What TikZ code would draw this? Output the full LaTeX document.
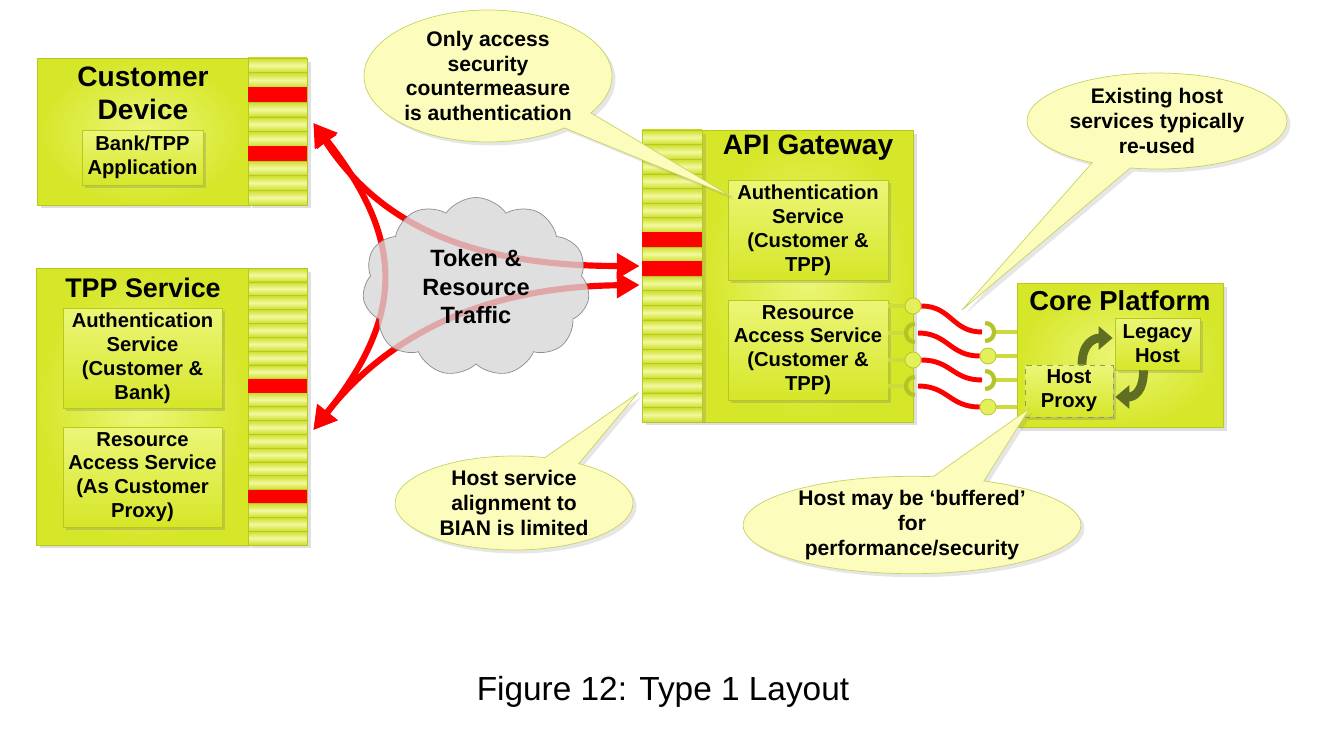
\documentclass[tikz,border=0pt]{standalone}
\usepackage{fontspec}
\setmainfont{Liberation Sans}
\usetikzlibrary{shapes.symbols,shapes.callouts,shadows,arrows.meta}

\definecolor{boxdark}{RGB}{214,230,40}
\definecolor{boxlight}{RGB}{236,246,120}
\definecolor{boxedge}{RGB}{185,200,30}
\definecolor{stripedark}{RGB}{205,222,40}
\definecolor{stripelight}{RGB}{242,249,160}
\definecolor{notefill}{RGB}{252,252,188}
\definecolor{noteedge}{RGB}{200,210,100}
\definecolor{cloudfill}{RGB}{214,214,214}
\definecolor{cloudedge}{RGB}{140,140,140}
\definecolor{plugline}{RGB}{205,220,60}
\definecolor{plugedge}{RGB}{180,196,40}
\definecolor{ballfill}{RGB}{228,240,90}
\definecolor{spinolive}{RGB}{95,110,35}

\newcommand{\fsz}[2]{\fontsize{#1}{#2}\selectfont\bfseries}

\begin{document}
\begin{tikzpicture}[
    x=0.02cm, y=-0.02cm,
    box/.style={rectangle, draw=boxedge, inner color=boxlight, outer color=boxdark,
      drop shadow={opacity=0.25, shadow xshift=2pt, shadow yshift=-2pt}},
    inbox/.style={rectangle, draw=boxedge, top color=boxlight, bottom color=boxdark,
      align=center, inner sep=0pt, font=\fsz{11.5}{13.6},
      drop shadow={opacity=0.3, shadow xshift=1.5pt, shadow yshift=-1.5pt}},
    title/.style={align=center, inner sep=0pt, font=\fsz{16}{18.7}},
    column/.style={rectangle, draw=boxedge, fill=stripedark, inner sep=0pt,
      drop shadow={opacity=0.25, shadow xshift=2pt, shadow yshift=-2pt}},
    stripe/.style={draw=boxedge, line width=0.3pt, top color=stripedark,
      bottom color=stripedark, middle color=stripelight},
    note/.style={ellipse callout, draw=noteedge, fill=notefill, align=center,
      inner sep=0pt, callout pointer arc=18, font=\fsz{12}{14},
      drop shadow={opacity=0.2, shadow xshift=2pt, shadow yshift=-2pt}},
    flowtip/.tip={Triangle[length=13pt, width=14pt]},
    flow/.style={draw=red, line width=3.5pt, flowtip-flowtip},
    plug/.style={draw=plugline, line width=2.2pt},
    ball/.style={circle, draw=plugedge, fill=ballfill, minimum size=0.32cm, inner sep=0pt},
    socket/.style={draw=plugedge, line width=2.4pt},
    wire/.style={draw=red, line width=2.8pt},
    spin/.style={draw=spinolive, line width=5pt, -{Triangle[length=8pt, width=13pt]}}
  ]

    \useasboundingbox (0,0) rectangle (1317,733);

    % Customer device
    \node[box, minimum width=4.22cm, minimum height=2.94cm] (cdev) at (142.5,131.5) {};
    \node[title] (cdevt) at (143,93) {Customer\\Device};
    \node[inbox, minimum width=2.42cm, minimum height=1.1cm] (cdapp) at (142.5,157.5) {Bank/TPP\\Application};
    \node[column, minimum width=1.18cm, minimum height=2.94cm] (cdcol) at (277.5,131.5) {};
    \foreach \i in {0,...,9}
      \path[stripe] (248,58+\i*14.7) rectangle ++(59,14.7);
    \foreach \i in {2,6}
      \fill[red] (248,58+\i*14.7) rectangle ++(59,14.7);

    % TPP service
    \node[box, minimum width=4.24cm, minimum height=5.54cm] (tpp) at (142,406.5) {};
    \node[title, font=\fsz{15.3}{18}] (tppt) at (143,288) {TPP Service};
    \node[inbox, minimum width=3.18cm, minimum height=2cm] (tppauth) at (142.5,358) {Authentication\\Service\\(Customer \&\\Bank)};
    \node[inbox, minimum width=3.18cm, minimum height=2cm] (tppres) at (142.5,477) {Resource\\Access Service\\(As Customer\\Proxy)};
    \node[column, minimum width=1.18cm, minimum height=5.54cm] (tppcol) at (277.5,406.5) {};
    \foreach \i in {0,...,19}
      \path[stripe] (248,268+\i*13.85) rectangle ++(59,13.85);
    \foreach \i in {8,16}
      \fill[red] (248,268+\i*13.85) rectangle ++(59,13.85);

    % API gateway
    \node[box, minimum width=4.22cm, minimum height=5.84cm] (gw) at (807.5,276) {};
    \node[title] (gwt) at (808,148) {API Gateway};
    \node[inbox, minimum width=3.2cm, minimum height=2cm] (gwauth) at (808,230) {Authentication\\Service\\(Customer \&\\TPP)};
    \node[inbox, minimum width=3.2cm, minimum height=2cm] (gwres) at (808,350) {Resource\\Access Service\\(Customer \&\\TPP)};
    \node[column, minimum width=1.2cm, minimum height=5.84cm] (gwcol) at (672,276) {};
    \foreach \i in {0,...,19}
      \path[stripe] (642,130+\i*14.6) rectangle ++(60,14.6);
    \foreach \i in {7,9}
      \fill[red] (642,130+\i*14.6) rectangle ++(60,14.6);

    % Core platform
    \node[box, minimum width=4.12cm, minimum height=2.88cm] (core) at (1120,355) {};
    \node[title, font=\fsz{15.6}{18}] (coret) at (1120,301) {Core Platform};
    \node[inbox, minimum width=1.7cm, minimum height=1.04cm] (legacy) at (1157.5,344) {Legacy\\Host};
    \node[inbox, dashed, draw=spinolive!70, minimum width=1.76cm, minimum height=1.04cm] (proxy) at (1069,391) {Host\\Proxy};
    \draw[spin] ([shift={(13,0)}]proxy.north) .. controls +(0,-22) and +(-18,0) .. ([shift={(-2,-6)}]legacy.west);
    \draw[spin] ([shift={(-14,0)}]legacy.south) .. controls +(0,22) and +(18,0) .. ([shift={(2,6)}]proxy.east);

    % Ball and socket links
    \coordinate (gp1) at (913,306);
    \coordinate (gs2) at (913,333);
    \coordinate (gp3) at (913,360);
    \coordinate (gs4) at (913,386);
    \coordinate (cs1) at (987,332);
    \coordinate (cp2) at (988,356);
    \coordinate (cs3) at (987,380);
    \coordinate (cp4) at (988,407);

    \foreach \p in {gp1,gs2,gp3,gs4}
      \draw[plug] (gwres.east |- \p) -- ([shift={(-7,0)}]\p);
    \foreach \p in {cs1,cp2,cs3,cp4}
      \draw[plug] ([shift={(7,0)}]\p) -- (core.west |- \p);

    \node[ball] (gb1) at (gp1) {};
    \node[ball] (gb3) at (gp3) {};
    \node[ball] (cb2) at (cp2) {};
    \node[ball] (cb4) at (cp4) {};
    \foreach \s in {gs2,gs4}
      \draw[socket] ([shift={(2,-9)}]\s) .. controls +(-12,0) and +(-12,0) .. ([shift={(2,9)}]\s);
    \foreach \s in {cs1,cs3}
      \draw[socket] ([shift={(-2,-9)}]\s) .. controls +(12,0) and +(12,0) .. ([shift={(-2,9)}]\s);

    \draw[wire] (gb1.east) .. controls +(30,0) and +(-30,0) .. ([shift={(-5,0)}]cs1);
    \draw[wire] ([shift={(5,0)}]gs2) .. controls +(30,0) and +(-30,0) .. (cb2.west);
    \draw[wire] (gb3.east) .. controls +(30,0) and +(-30,0) .. ([shift={(-5,0)}]cs3);
    \draw[wire] ([shift={(5,0)}]gs4) .. controls +(30,0) and +(-30,0) .. (cb4.west);

    % Traffic flows through the cloud
    \coordinate (cdtip) at ([shift={(6,-8.5)}]cdcol.east);
    \coordinate (tpptip) at ([shift={(6,23.5)}]tppcol.east);
    \coordinate (gwtip1) at ([shift={(-2,-10)}]gwcol.west);
    \coordinate (gwtip2) at ([shift={(-2,9)}]gwcol.west);
    \draw[flow] (cdtip) .. controls (380,225) and (470,266) .. (gwtip1);
    \draw[flow] (tpptip) .. controls (380,345) and (470,287) .. (gwtip2);
    \draw[flow] (cdtip) .. controls (405,240) and (405,315) .. (tpptip);

    \node[cloud, cloud puffs=11, cloud puff arc=110, aspect=1.3, draw=cloudedge, fill=cloudfill,
      fill opacity=0.78, text opacity=1, inner sep=0pt, minimum width=4.54cm, minimum height=3.58cm,
      align=center, font=\fsz{13.4}{16.2}] (traffic) at (476,287) {Token \&\\Resource\\Traffic};

    % Callouts
    \coordinate (reuse) at (962,310);
    \node[note, minimum width=4.96cm, minimum height=2.64cm,
      callout absolute pointer={([shift={(4,17)}]gwauth.north west)}] (note1) at (488,76)
      {Only access\\security\\countermeasure\\is authentication};
    \node[note, minimum width=5.2cm, minimum height=1.92cm,
      callout absolute pointer={(reuse)}] (note2) at (1157,121)
      {Existing host\\services typically\\re-used};
    \node[note, minimum width=4.76cm, minimum height=1.88cm,
      callout absolute pointer={([shift={(-4,-29)}]gwcol.south west)}] (note3) at (514,503)
      {Host service\\alignment to\\BIAN is limited};
    \node[note, minimum width=6.76cm, minimum height=1.88cm,
      callout absolute pointer={([shift={(5,-9)}]proxy.south west)}] (note4) at (912,525)
      {Host may be ‘buffered’\\for\\performance/security};

    % Caption
    \node[font=\fontsize{19}{22}\selectfont] (caption) at (663,692) {Figure 12: Type 1 Layout};

  \end{tikzpicture}
\end{document}
